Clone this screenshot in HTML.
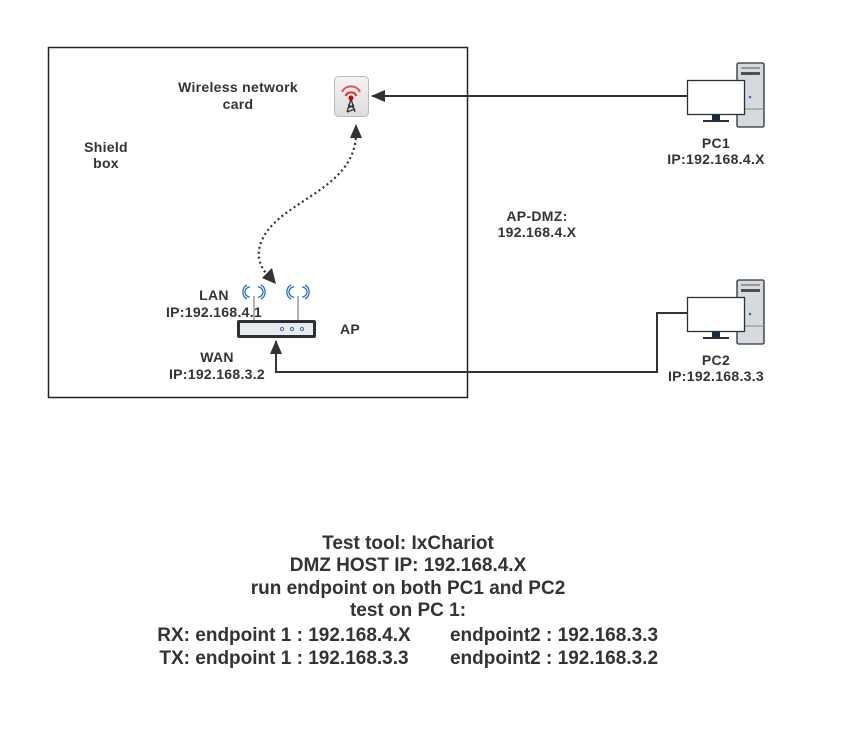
<!DOCTYPE html>
<html><head><meta charset="utf-8"><style>
html,body{margin:0;padding:0;background:#fff;}
svg{display:block;}
text{font-family:"Liberation Sans","DejaVu Sans",sans-serif;font-weight:bold;fill:#333;}
.s{font-size:14px;letter-spacing:0.3px;}
</style></head><body>
<svg width="856" height="740" viewBox="0 0 856 740" xmlns="http://www.w3.org/2000/svg">
<defs>
<marker id="ah2" markerWidth="14" markerHeight="12" refX="13" refY="6" orient="auto" markerUnits="userSpaceOnUse">
<path d="M0,0 L14,6 L0,12 z" fill="#333"/></marker>
<linearGradient id="ig" x1="0" y1="0" x2="0" y2="1"><stop offset="0" stop-color="#f4f4f4"/><stop offset="1" stop-color="#dcdcdc"/></linearGradient>
</defs>
<rect x="48.5" y="47.5" width="419" height="350" fill="none" stroke="#222" stroke-width="1.5"/>
<text class="s" x="238" y="92" text-anchor="middle">Wireless network</text>
<text class="s" x="238" y="109" text-anchor="middle">card</text>
<text class="s" x="106" y="152" text-anchor="middle">Shield</text>
<text class="s" x="106" y="168" text-anchor="middle">box</text>
<text class="s" x="537" y="221" text-anchor="middle">AP-DMZ:</text>
<text class="s" x="537" y="237" text-anchor="middle">192.168.4.X</text>
<text class="s" x="214" y="300" text-anchor="middle">LAN</text>
<text class="s" x="214" y="317" text-anchor="middle">IP:192.168.4.1</text>
<text class="s" x="350" y="334" text-anchor="middle">AP</text>
<text class="s" x="217" y="362" text-anchor="middle">WAN</text>
<text class="s" x="217" y="379" text-anchor="middle">IP:192.168.3.2</text>
<text class="s" x="716" y="148" text-anchor="middle">PC1</text>
<text class="s" x="716" y="164" text-anchor="middle">IP:192.168.4.X</text>
<text class="s" x="716" y="365" text-anchor="middle">PC2</text>
<text class="s" x="716" y="381" text-anchor="middle">IP:192.168.3.3</text>
<rect x="334.5" y="76.5" width="34" height="40" rx="4" fill="url(#ig)" stroke="#bbb"/>
<path d="M342,92 A10,10 0 0 1 360,92" fill="none" stroke="#f05050" stroke-width="2"/>
<path d="M345.5,96 A6,6 0 0 1 356.5,96" fill="none" stroke="#e03030" stroke-width="2"/>
<circle cx="351" cy="98" r="2.5" fill="#d00"/>
<path d="M351,99 L347,112 M351,99 L355,112 M348,105 L354,108 M354,105 L348,108 M347,112 L355,109" stroke="#333" stroke-width="1.3" fill="none"/>
<line x1="688" y1="96" x2="372" y2="96" stroke="#333" stroke-width="2" marker-end="url(#ah2)"/>
<polyline points="688,313 657,313 657,372 276,372 276,341" fill="none" stroke="#333" stroke-width="2" marker-end="url(#ah2)"/>
<path d="M356,133 C356,190 280,200 262,240 C254,258 262,270 272,280" fill="none" stroke="#333" stroke-width="2.2" stroke-dasharray="2,3" />
<path d="M356,124 L350,138 L362,138 z" fill="#333"/>
<path d="M276,284 L262,278 L272,268 z" fill="#333"/>
<line x1="254" y1="296" x2="254" y2="321" stroke="#999" stroke-width="1.5"/>
<line x1="298" y1="296" x2="298" y2="321" stroke="#999" stroke-width="1.5"/>
<g fill="none" stroke="#2d6bc9" stroke-width="1.3">
<path d="M250,287 A5,5 0 0 0 250,297"/><path d="M247,285 A8,8 0 0 0 247,299"/>
<path d="M258,287 A5,5 0 0 1 258,297"/><path d="M261,285 A8,8 0 0 1 261,299"/>
<path d="M294,287 A5,5 0 0 0 294,297"/><path d="M291,285 A8,8 0 0 0 291,299"/>
<path d="M302,287 A5,5 0 0 1 302,297"/><path d="M305,285 A8,8 0 0 1 305,299"/>
</g>
<rect x="237" y="320" width="79" height="18" rx="2" fill="#2a3038"/>
<rect x="240" y="323" width="73" height="12" fill="#e8eaec"/>
<g fill="none" stroke="#2d6bc9" stroke-width="1"><circle cx="282" cy="329" r="1.6"/><circle cx="292" cy="329" r="1.6"/><circle cx="302" cy="329" r="1.6"/></g>
<g>
<rect x="737" y="63" width="27" height="64" rx="1.5" fill="#d6dade" stroke="#2a3038" stroke-width="1.3"/>
<line x1="741" y1="68" x2="760" y2="68" stroke="#555" stroke-width="1"/>
<rect x="741" y="72" width="19" height="3" fill="#4a5058"/>
<line x1="737" y1="109" x2="764" y2="109" stroke="#888" stroke-width="1"/>
<circle cx="750" cy="97" r="1.3" fill="#2d6bc9"/>
<rect x="687.5" y="80.5" width="57" height="34" fill="#fff" stroke="#2a3038" stroke-width="1.3"/>
<rect x="712" y="115" width="8" height="5" fill="#1a2a40"/>
<rect x="703" y="120" width="26" height="2" fill="#2a3038"/>
</g>
<g transform="translate(0,217)">
<rect x="737" y="63" width="27" height="64" rx="1.5" fill="#d6dade" stroke="#2a3038" stroke-width="1.3"/>
<line x1="741" y1="68" x2="760" y2="68" stroke="#555" stroke-width="1"/>
<rect x="741" y="72" width="19" height="3" fill="#4a5058"/>
<line x1="737" y1="109" x2="764" y2="109" stroke="#888" stroke-width="1"/>
<circle cx="750" cy="97" r="1.3" fill="#2d6bc9"/>
<rect x="687.5" y="80.5" width="57" height="34" fill="#fff" stroke="#2a3038" stroke-width="1.3"/>
<rect x="712" y="115" width="8" height="5" fill="#1a2a40"/>
<rect x="703" y="120" width="26" height="2" fill="#2a3038"/>
</g>
<g font-size="19" text-anchor="middle">
<text x="408" y="549">Test tool: IxChariot</text>
<text x="408" y="571">DMZ HOST IP: 192.168.4.X</text>
<text x="408" y="594">run endpoint on both PC1 and PC2</text>
<text x="408" y="616">test on PC 1:</text>
<text x="284" y="641">RX: endpoint 1 : 192.168.4.X</text>
<text x="554" y="641">endpoint2 : 192.168.3.3</text>
<text x="284" y="664">TX: endpoint 1 : 192.168.3.3</text>
<text x="554" y="664">endpoint2 : 192.168.3.2</text>
</g>
</svg>
</body></html>
